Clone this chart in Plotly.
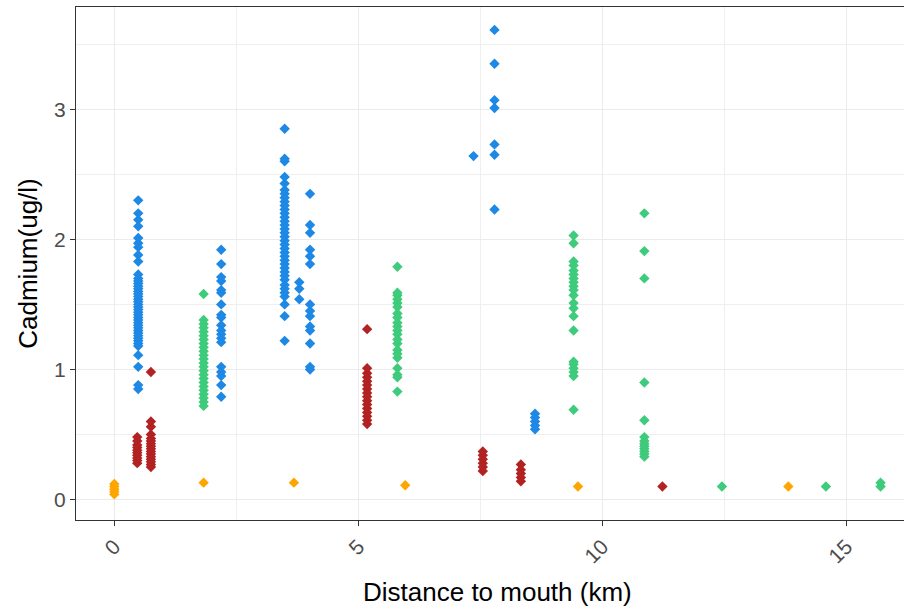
import plotly.graph_objects as go

# ---- data (distance to mouth in km, cadmium in ug/l) ----
blue_sites = [0.49, 2.19, 3.49, 3.79, 4.01, 7.36, 7.79, 8.62]
blue_values = [
    [0.85, 0.88, 1.02, 1.11, 1.18, 1.20, 1.22, 1.24, 1.26, 1.28, 1.30, 1.32, 1.34,
     1.36, 1.38, 1.40, 1.42, 1.44, 1.46, 1.48, 1.50, 1.52, 1.54, 1.56, 1.58, 1.60,
     1.62, 1.64, 1.66, 1.68, 1.70, 1.73, 1.83, 1.88, 1.94, 1.97, 2.01, 2.10, 2.15,
     2.20, 2.30],
    [0.79, 0.88, 0.95, 0.98, 1.02, 1.21, 1.24, 1.27, 1.30, 1.34, 1.40, 1.42, 1.50,
     1.59, 1.61, 1.68, 1.71, 1.81, 1.92],
    [1.22, 1.41, 1.50, 1.56, 1.59, 1.62, 1.65, 1.69, 1.72, 1.75, 1.78, 1.81, 1.84,
     1.87, 1.90, 1.93, 1.96, 1.99, 2.02, 2.05, 2.08, 2.11, 2.14, 2.17, 2.20, 2.23,
     2.26, 2.29, 2.32, 2.35, 2.38, 2.43, 2.48, 2.60, 2.62, 2.85],
    [1.54, 1.62, 1.67],
    [1.00, 1.02, 1.20, 1.30, 1.33, 1.41, 1.45, 1.50, 1.81, 1.87, 1.92, 2.05, 2.11, 2.35],
    [2.64],
    [2.23, 2.65, 2.73, 3.01, 3.07, 3.35, 3.61],
    [0.54, 0.57, 0.60, 0.63, 0.66],
]

green_sites = [1.83, 5.80, 9.41, 10.86, 12.45, 14.58, 15.70]
green_values = [
    [0.72, 0.75, 0.78, 0.81, 0.84, 0.87, 0.90, 0.93, 0.96, 0.99, 1.02, 1.05, 1.08,
     1.11, 1.14, 1.17, 1.20, 1.23, 1.26, 1.29, 1.32, 1.35, 1.38, 1.58],
    [0.83, 0.94, 0.96, 1.01, 1.09, 1.12, 1.15, 1.20, 1.23, 1.27, 1.30, 1.33, 1.36,
     1.40, 1.43, 1.48, 1.51, 1.54, 1.57, 1.59, 1.79],
    [0.69, 0.95, 0.98, 1.01, 1.04, 1.06, 1.30, 1.41, 1.47, 1.51, 1.57, 1.61, 1.64,
     1.67, 1.70, 1.73, 1.76, 1.80, 1.83, 1.97, 2.03],
    [0.33, 0.35, 0.37, 0.39, 0.41, 0.43, 0.45, 0.48, 0.61, 0.90, 1.70, 1.91, 2.20],
    [0.10],
    [0.10],
    [0.10, 0.13],
]

red_sites = [0.47, 0.75, 5.18, 7.55, 8.33, 11.23]
red_values = [
    [0.28, 0.30, 0.32, 0.34, 0.36, 0.38, 0.40, 0.42, 0.45, 0.48],
    [0.25, 0.27, 0.29, 0.31, 0.33, 0.35, 0.37, 0.39, 0.41, 0.43, 0.45, 0.47, 0.50,
     0.56, 0.60, 0.98],
    [0.58, 0.61, 0.64, 0.67, 0.70, 0.73, 0.76, 0.79, 0.82, 0.85, 0.88, 0.91, 0.94,
     0.97, 1.01, 1.31],
    [0.22, 0.25, 0.28, 0.31, 0.34, 0.37],
    [0.14, 0.17, 0.20, 0.23, 0.27],
    [0.10],
]

orange_sites = [0.00, 1.83, 3.68, 5.96, 9.50, 13.81]
orange_values = [
    [0.04, 0.06, 0.08, 0.10, 0.12],
    [0.13],
    [0.13],
    [0.11],
    [0.10],
    [0.10],
]

x_ticks = [0, 5, 10, 15]
y_ticks = [0, 1, 2, 3]
x_title = "Distance to mouth (km)"
y_title = "Cadmium(ug/l)"

groups = [
    ("orange", orange_sites, orange_values, "#FFA500"),
    ("red", red_sites, red_values, "#B22222"),
    ("green", green_sites, green_values, "#3ECB7B"),
    ("blue", blue_sites, blue_values, "#1E88E5"),
]

fig = go.Figure()
for name, sites, vals, color in groups:
    xs, ys = [], []
    for s, v in zip(sites, vals):
        xs.extend([s] * len(v))
        ys.extend(v)
    fig.add_trace(go.Scatter(
        x=xs, y=ys, mode="markers", name=name, showlegend=False,
        marker=dict(symbol="diamond", size=8, color=color, line=dict(width=0)),
    ))

font_family = "Liberation Sans, Arial, sans-serif"
fig.update_layout(
    width=904, height=610,
    margin=dict(l=76, r=0, t=7, b=90, autoexpand=False),
    paper_bgcolor="white", plot_bgcolor="white",
    font=dict(family=font_family, size=21, color="#4D4D4D"),
)
fig.add_annotation(
    text=x_title, xref="paper", yref="paper", x=0.509, y=-0.140,
    xanchor="center", yanchor="middle", showarrow=False,
    font=dict(size=26, color="black"),
)
fig.update_xaxes(
    automargin=False,
    range=[-0.785, 16.18], tickvals=x_ticks, ticktext=[str(t) for t in x_ticks],
    tickangle=-45, ticks="outside", ticklen=5, tickcolor="#333333", tickwidth=1,
    showgrid=True, gridcolor="#EBEBEB", gridwidth=1.2,
    minor=dict(dtick=2.5, tick0=0, showgrid=True, gridcolor="#EFEFEF", gridwidth=0.8, ticks=""),
    showline=True, linecolor="#333333", linewidth=1.3, mirror=True,
    zeroline=False,
    tickfont=dict(size=21, color="#4D4D4D"),
)
fig.update_yaxes(
    automargin=False,
    range=[-0.157, 3.786], tickvals=y_ticks, ticktext=[str(t) for t in y_ticks],
    ticks="outside", ticklen=5, tickcolor="#333333", tickwidth=1,
    showgrid=True, gridcolor="#EBEBEB", gridwidth=1.2,
    minor=dict(dtick=0.5, tick0=0, showgrid=True, gridcolor="#EFEFEF", gridwidth=0.8, ticks=""),
    showline=True, linecolor="#333333", linewidth=1.3, mirror=False,
    zeroline=False,
    title=dict(text=y_title, font=dict(size=26, color="black"), standoff=8),
    tickfont=dict(size=21, color="#4D4D4D"),
)

fig.write_html(
    "out.html",
    config={"displayModeBar": False},
    post_script="document.body.style.margin='0';document.body.style.overflow='hidden';",
)
